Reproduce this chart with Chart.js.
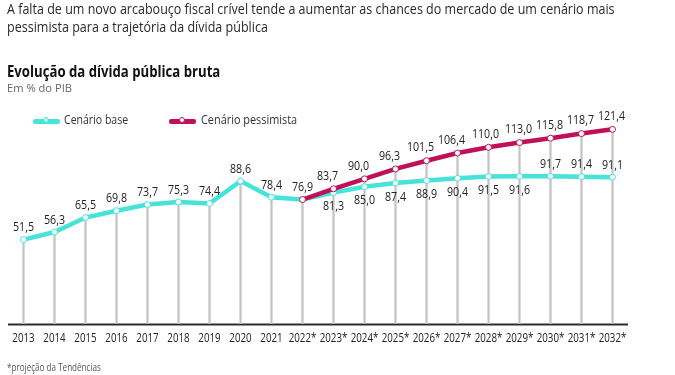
<!DOCTYPE html>
<html><head><meta charset="utf-8">
<script src="https://cdn.jsdelivr.net/npm/chart.js@4"></script>
<style>
html,body{margin:0;padding:0;background:#fff;}
#wrap{position:relative;width:675px;height:375px;overflow:hidden;font-family:"Open Sans",sans-serif;color:#222;}
canvas{position:absolute;left:0;top:0;}
.t{position:absolute;left:7px;white-space:nowrap;transform-origin:0 50%;line-height:1;}
#h1{top:2px;font-size:14.5px;color:#2a2a2a;}
#h2{top:20px;font-size:14.5px;color:#2a2a2a;}
#title{top:63px;font-size:16.5px;font-weight:bold;color:#111;}
#sub{top:82px;font-size:11.5px;color:#666;}
#foot{top:362px;font-size:10px;color:#555;}
.sw{position:absolute;top:118.5px;width:27px;height:5px;border-radius:2px;}
.sw i{position:absolute;left:10px;top:-1.5px;width:6px;height:6px;border-radius:50%;background:#fff;box-sizing:border-box;border:1.2px solid;}
.lt{position:absolute;top:113px;font-size:13.5px;color:#333;white-space:nowrap;transform-origin:0 50%;line-height:1;}
</style></head>
<body><div id="wrap">
<canvas id="c" width="675" height="375"></canvas>
<div class="t" id="h1">A falta de um novo arcabouço fiscal crível tende a aumentar as chances do mercado de um cenário mais</div>
<div class="t" id="h2">pessimista para a trajetória da dívida pública</div>
<div class="t" id="title">Evolução da dívida pública bruta</div>
<div class="t" id="sub">Em % do PIB</div>
<span class="sw" style="left:33px;background:#45e3d8"><i style="border-color:#45e3d8;background:#b8f5f0"></i></span>
<div class="lt" id="l1" style="left:64px">Cenário base</div>
<span class="sw" style="left:169px;background:#c0105a"><i style="border-color:#c0105a"></i></span>
<div class="lt" id="l2" style="left:201px">Cenário pessimista</div>
<div class="t" id="foot">*projeção da Tendências</div>
</div>
<script>
const anos = ['2013','2014','2015','2016','2017','2018','2019','2020','2021','2022*','2023*','2024*','2025*','2026*','2027*','2028*','2029*','2030*','2031*','2032*'];
const cenarioBase = [51.5,56.3,65.5,69.8,73.7,75.3,74.4,88.6,78.4,76.9,81.3,85.0,87.4,88.9,90.4,91.5,91.6,91.7,91.4,91.1];
const cenarioPessimista = [null,null,null,null,null,null,null,null,null,76.9,83.7,90.0,96.3,101.5,106.4,110.0,113.0,115.8,118.7,121.4];

// fit condensed look of the HTML texts
function fitW(id, w, ref) {
  const el = document.getElementById(id);
  const s = ref ? ref : w / el.scrollWidth;
  el.style.transform = 'scaleX(' + s + ')';
  return s;
}
const sh = fitW('h1', 608);
fitW('h2', 0, sh);
fitW('title', 213);
fitW('sub', 65);
fitW('foot', 94);
fitW('l1', 64);
fitW('l2', 96);

const CYAN = '#45e3d8', PINK = '#c0105a';
const guias = anos.map((_, i) => Math.max(cenarioBase[i], cenarioPessimista[i] ?? 0));
const fmt = v => v.toFixed(1).replace('.', ',');
const FONT = '"Open Sans",sans-serif';

function condensedText(ctx, txt, x, y, sx) {
  ctx.save();
  ctx.translate(x, y);
  ctx.scale(sx, 1);
  ctx.fillText(txt, 0, 0);
  ctx.restore();
}

const axisPlugin = {
  id: 'axisAndTicks',
  beforeDatasetsDraw(chart) {
    const { ctx, chartArea } = chart;
    ctx.save();
    ctx.strokeStyle = '#2b2b2b';
    ctx.lineWidth = 2;
    ctx.beginPath();
    ctx.moveTo(chartArea.left, chartArea.bottom + 0.5);
    ctx.lineTo(chartArea.right, chartArea.bottom + 0.5);
    ctx.stroke();
    ctx.fillStyle = '#222';
    ctx.font = '12.5px ' + FONT;
    ctx.textAlign = 'center';
    ctx.textBaseline = 'middle';
    const xs = chart.scales.x;
    anos.forEach((a, i) => condensedText(ctx, a, xs.getPixelForValue(i), chartArea.bottom + 14, 0.78));
    ctx.restore();
  }
};

const labelPlugin = {
  id: 'valueLabels',
  afterDatasetsDraw(chart) {
    const ctx = chart.ctx;
    ctx.save();
    ctx.font = '13px ' + FONT;
    ctx.fillStyle = '#222';
    ctx.textAlign = 'center';
    ctx.textBaseline = 'middle';
    chart.data.datasets.forEach((ds, di) => {
      if (ds.type === 'bar') return;
      const meta = chart.getDatasetMeta(di);
      meta.data.forEach((pt, i) => {
        const v = ds.data[i];
        if (v == null) return;
        if (ds.label === 'Cenário base') {
          const below = i >= 10 && i <= 16;
          condensedText(ctx, fmt(v), pt.x, below ? pt.y + 14 : pt.y - 12, 0.82);
        } else {
          if (i === 9) return;
          const dx = (i >= 10 && i <= 14) ? -6 : (i === 15 ? -3 : -1);
          condensedText(ctx, fmt(v), pt.x + dx, pt.y - 13, 0.82);
        }
      });
    });
    ctx.restore();
  }
};

new Chart(document.getElementById('c'), {
  type: 'line',
  data: {
    labels: anos,
    datasets: [
      { label: 'Cenário pessimista', data: cenarioPessimista, borderColor: PINK, borderWidth: 4.5,
        pointRadius: 3, pointBackgroundColor: '#fff', pointBorderColor: PINK, pointBorderWidth: 1,
        tension: 0, order: 1 },
      { label: 'Cenário base', data: cenarioBase, borderColor: CYAN, borderWidth: 4.5,
        pointRadius: 3, pointBackgroundColor: '#fff', pointBorderColor: CYAN, pointBorderWidth: 1,
        tension: 0, order: 2 },
      { type: 'bar', label: 'guias', data: guias, base: -2, backgroundColor: '#c4c4c4', barThickness: 1.6, order: 3 }
    ]
  },
  options: {
    responsive: false,
    animation: false,
    layout: { padding: { left: 8, right: 47, top: 100, bottom: 51 } },
    plugins: { legend: { display: false }, tooltip: { enabled: false } },
    scales: {
      x: { display: false, offset: true },
      y: { display: false, min: -2, max: 140 }
    }
  },
  plugins: [axisPlugin, labelPlugin]
});
</script>
</body></html>
